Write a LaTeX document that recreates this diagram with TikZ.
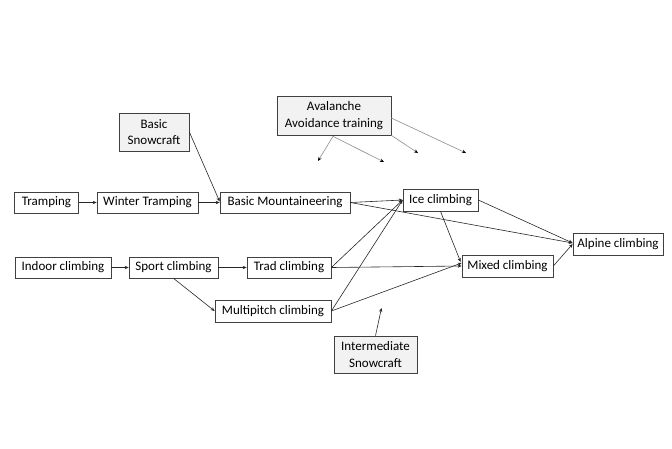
\documentclass[tikz,border=0pt]{standalone}
\usepackage{fontspec}
\setmainfont{Carlito}
\usetikzlibrary{arrows.meta,calc}
\definecolor{boxgray}{HTML}{F2F2F2}
\definecolor{linegray}{HTML}{8C8C8C}
\definecolor{edgecol}{HTML}{404040}
\begin{document}
\begin{tikzpicture}[x=1pt,y=-1pt,
  box/.style={draw=edgecol,line width=0.7pt,inner sep=0pt,align=center,font=\fontsize{13}{16.5}\selectfont},
  gbox/.style={box,fill=boxgray},
  conn/.style={line width=0.6pt,draw=black!85,-{Stealth[length=4pt,width=3.4pt]}},
  gconn/.style={line width=0.6pt,draw=linegray,-{Stealth[length=4pt,width=3.4pt,fill=black,color=black]}}]
\useasboundingbox (0,0) rectangle (672,448);
% nodes
\node[box,minimum width=64pt,minimum height=21pt] (tramp) at (46.5,202.5) {Tramping};
\node[box,minimum width=101pt,minimum height=21pt] (wint) at (147.5,202.5) {Winter Tramping};
\node[box,minimum width=130pt,minimum height=21pt] (bm) at (285,202.5) {Basic Mountaineering};
\node[gbox,minimum width=70pt,minimum height=38pt] (snow) at (154,132) {Basic\\Snowcraft};
\node[gbox,minimum width=114pt,minimum height=39pt] (aval) at (334,115.5) {Avalanche\\Avoidance training};
\node[box,minimum width=75pt,minimum height=22pt] (ice) at (440.5,200) {Ice climbing};
\node[box,minimum width=90pt,minimum height=22pt] (alp) at (618,244) {Alpine climbing};
\node[box,minimum width=91pt,minimum height=22pt] (mixed) at (507.5,266) {Mixed climbing};
\node[box,minimum width=96pt,minimum height=21pt] (indoor) at (63,267.5) {Indoor climbing};
\node[box,minimum width=89pt,minimum height=21pt] (sport) at (173.5,267.5) {Sport climbing};
\node[box,minimum width=84pt,minimum height=21pt] (trad) at (289,267.5) {Trad climbing};
\node[box,minimum width=116pt,minimum height=22pt] (multi) at (273,311) {Multipitch climbing};
\node[gbox,minimum width=83pt,minimum height=37pt] (inter) at (375.5,354.5) {Intermediate\\Snowcraft};
% free ends
\coordinate (a1) at (318,161);
\coordinate (a2) at (384,162);
\coordinate (a3) at (418,153);
\coordinate (a4) at (466,153);
\coordinate (i1) at (381.5,308);
% connectors
\draw[conn] (tramp.east) -- (wint.west);
\draw[conn] (wint.east) -- (bm.west);
\draw[conn] (snow.east) -- ($(bm.west)+(0,-1)$);
\draw[conn] (bm.east) -- (ice.west);
\draw[conn] (bm.east) -- ($(alp.west)+(0,-1)$);
\draw[conn] (ice.east) -- ($(alp.west)+(0,-1)$);
\draw[conn] (ice.south) -- ($(mixed.west)+(-1,-4)$);
\draw[conn] (mixed.east) -- ($(alp.west)+(0,0)$);
\draw[conn] (trad.east) -- (ice.west);
\draw[conn] (trad.east) -- (mixed.west);
\draw[conn] (multi.east) -- (ice.west);
\draw[conn] (multi.east) -- ($(mixed.west)+(0,-3)$);
\draw[conn] (indoor.east) -- (sport.west);
\draw[conn] (sport.east) -- (trad.west);
\draw[conn] ($(sport.south)+(0,0)$) -- (multi.west);
\draw[conn] (inter.north) -- (i1);
\draw[gconn] ($(aval.south)+(-1,1)$) -- (a1);
\draw[gconn] ($(aval.south)+(-1,1)$) -- (a2);
\draw[gconn] (aval.south east) -- (a3);
\draw[gconn] ($(aval.east)+(0,2.5)$) -- (a4);
\end{tikzpicture}
\end{document}
